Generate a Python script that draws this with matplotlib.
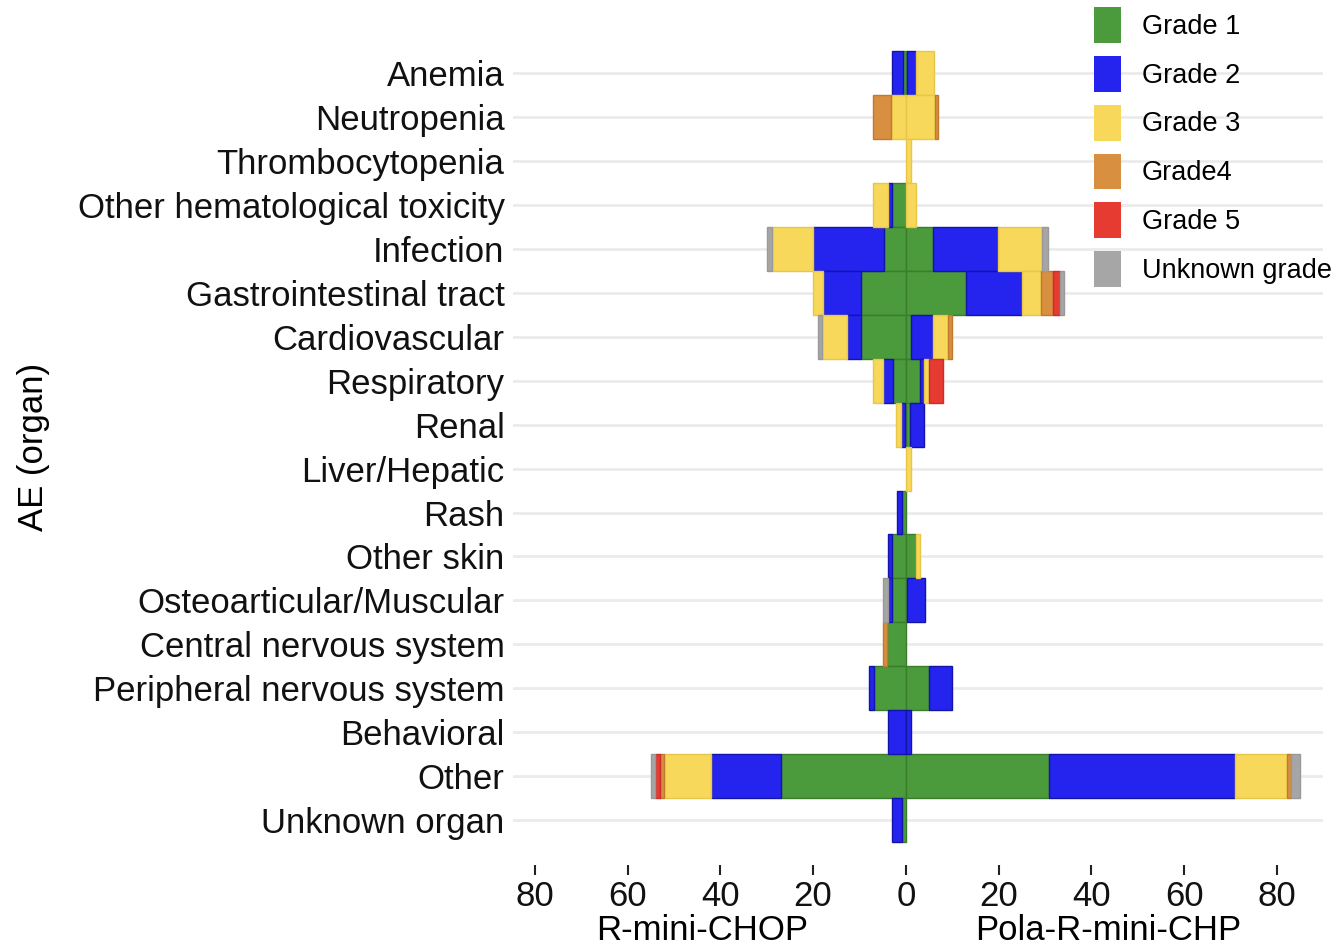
import numpy as np
import matplotlib
matplotlib.use('Agg')
import matplotlib.pyplot as plt
from matplotlib.patches import Patch

plt.rcParams['font.family'] = ['Liberation Sans', 'DejaVu Sans']

# categories (top to bottom)
organs = ['Anemia', 'Neutropenia', 'Thrombocytopenia', 'Other hematological toxicity',
          'Infection', 'Gastrointestinal tract', 'Cardiovascular', 'Respiratory',
          'Renal', 'Liver/Hepatic', 'Rash', 'Other skin', 'Osteoarticular/Muscular',
          'Central nervous system', 'Peripheral nervous system', 'Behavioral',
          'Other', 'Unknown organ']

grades = ['Grade 1', 'Grade 2', 'Grade 3', 'Grade4', 'Grade 5', 'Unknown grade']
colors = ['#4b9a3b', '#2424ee', '#f8d85a', '#d98f40', '#e63b30', '#a6a6a6']
edges = ['#3a7e2c', '#1414a8', '#e8c64a', '#c07a30', '#c83028', '#999999']

# R-mini-CHOP (left side)
r_g1 = [0.7, 0, 0, 3.0, 4.7, 9.7, 9.7, 2.8, 0.3, 0, 0.9, 3.0, 3.0, 4.1, 6.9, 0, 26.9, 0.9]
r_g2 = [2.4, 0, 0, 0.9, 15.3, 8.2, 3.0, 2.2, 0.8, 0, 1.1, 0.9, 0.9, 0, 1.1, 3.9, 15.1, 2.0]
r_g3 = [0, 3.2, 0, 3.2, 8.8, 2.2, 5.4, 2.2, 1.1, 0, 0, 0, 0, 0, 0, 0, 10.1, 0]
r_g4 = [0, 3.9, 0, 0, 0, 0, 0, 0, 0, 0, 0, 0, 0, 0.9, 0, 0, 0.9, 0]
r_g5 = [0, 0, 0, 0, 0, 0, 0, 0, 0, 0, 0, 0, 0, 0, 0, 0, 1.1, 0]
r_unk = [0, 0, 0, 0, 1.1, 0, 0.9, 0, 0, 0, 0, 0, 1.1, 0, 0, 0, 0.9, 0]

# Pola-R-mini-CHP (right side)
p_g1 = [0.3, 0, 0, 0, 5.8, 12.9, 1.1, 3.0, 0.8, 0, 0, 2.2, 0.3, 0, 5.0, 0, 30.8, 0]
p_g2 = [1.9, 0, 0, 0, 14.0, 12.1, 4.7, 0.9, 3.2, 0, 0, 0, 3.8, 0, 5.0, 1.0, 40.1, 0]
p_g3 = [3.8, 6.2, 1.0, 2.1, 9.5, 4.1, 3.2, 1.1, 0, 1.0, 0, 0.9, 0, 0, 0, 0, 11.2, 0]
p_g4 = [0, 0.8, 0, 0, 0, 2.6, 0.9, 0, 0, 0, 0, 0, 0, 0, 0, 0, 0.9, 0]
p_g5 = [0, 0, 0, 0, 0, 1.5, 0, 3.0, 0, 0, 0, 0, 0, 0, 0, 0, 0, 0]
p_unk = [0, 0, 0, 0, 1.3, 0.9, 0, 0, 0, 0, 0, 0, 0, 0, 0, 0, 1.9, 0]

left_data = [r_g1, r_g2, r_g3, r_g4, r_g5, r_unk]
right_data = [p_g1, p_g2, p_g3, p_g4, p_g5, p_unk]

fig = plt.figure(figsize=(13.4, 9.51), dpi=100)
ax = fig.add_axes([0.3828, 0.0904, 0.6045, 0.880])

y = np.arange(len(organs))
cum_l = np.zeros(len(organs))
cum_r = np.zeros(len(organs))
for vals_l, vals_r, c, e in zip(left_data, right_data, colors, edges):
    vl = np.array(vals_l)
    vr = np.array(vals_r)
    ml = vl > 0
    mr = vr > 0
    # left side goes negative, stacked outward from 0
    ax.barh(y[ml], -vl[ml], left=-cum_l[ml], height=1.0, color=c, edgecolor=e, linewidth=1, zorder=3)
    ax.barh(y[mr], vr[mr], left=cum_r[mr], height=1.0, color=c, edgecolor=e, linewidth=1, zorder=3)
    cum_l += vl
    cum_r += vr

ax.set_ylim(len(organs) - 1 + 1.02, -1.02)
ax.set_xlim(-84.7, 89.9)
ax.set_yticks(y)
ax.set_yticklabels(organs, fontsize=25, color='#111111')
ticks = [-80, -60, -40, -20, 0, 20, 40, 60, 80]
ax.set_xticks(ticks)
ax.set_xticklabels([str(abs(t)) for t in ticks], fontsize=25, color='#111111')
ax.tick_params(axis='y', length=0, pad=6)
ax.tick_params(axis='x', length=7, width=1.5, color='#222222', pad=4)
for s in ax.spines.values():
    s.set_visible(False)
ax.yaxis.grid(True, color='#ebebeb', linewidth=2)
ax.xaxis.grid(False)
ax.set_axisbelow(True)

ax.set_ylabel('AE (organ)', fontsize=25)
ax.yaxis.set_label_coords(-0.571, 0.50)

tr = ax.get_xaxis_transform()
ax.text(-44, -0.078, 'R-mini-CHOP', transform=tr, ha='center', va='center', fontsize=25)
ax.text(43.5, -0.078, 'Pola-R-mini-CHP', transform=tr, ha='center', va='center', fontsize=25)

handles = [Patch(facecolor=c, edgecolor='none') for c in colors]
fig.legend(handles, grades, loc='upper left', bbox_to_anchor=(1094 / 1340, 1 - 7 / 951),
           frameon=False, fontsize=19.5, handlelength=0.99, handleheight=1.66,
           labelspacing=0.48, handletextpad=0.77, borderpad=0, borderaxespad=0)

fig.savefig('out.png', dpi=100)
